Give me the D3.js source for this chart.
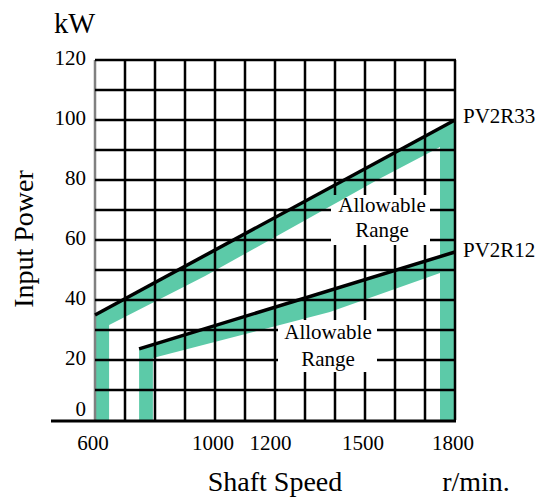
<!DOCTYPE html>
<html><head><meta charset="utf-8">
<script src="https://cdn.jsdelivr.net/npm/d3@7"></script>
<style>body{margin:0;background:#fff}svg{display:block}text{font-family:"Liberation Serif","Times New Roman",serif;fill:#000}</style>
</head><body><svg id="c" width="547" height="497"></svg>
<script>
// ---- data ----
const xTicks = [600, 1000, 1200, 1500, 1800];
const yTicks = [0, 20, 40, 60, 80, 100, 120];
const xGrid = d3.range(600, 1801, 100);
const yGrid = d3.range(0, 121, 10);
const seriesNames = ["PV2R33", "PV2R12"];
const linePV2R33 = [[600, 35], [1800, 100]];
const linePV2R12 = [[747, 23.7], [1800, 56]];
const bandPV2R33 = [[600,0],[600,35],[1800,100],[1800,0],[1750,0],[1750,91],[1550,80.5],[967,48],[647,31.7],[647,0]];
const bandPV2R12 = [[747,0],[747,23.7],[1800,56],[1800,0],[1750,0],[1750,49],[1383,36],[793,20.7],[793,0]];
const labelRange = ["Allowable", "Range"];

const svg = d3.select("#c");
const x = d3.scaleLinear().domain([600, 1800]).range([95, 455]);
const y = d3.scaleLinear().domain([0, 120]).range([420, 60]);

const defs = svg.append("defs");
defs.append("filter").attr("id","soft").append("feGaussianBlur").attr("stdDeviation",0.7);
const mask = defs.append("mask").attr("id","gm").attr("maskUnits","userSpaceOnUse");
mask.append("rect").attr("x",0).attr("y",0).attr("width",547).attr("height",497).attr("fill","#fff");
mask.append("rect").attr("x",331).attr("y",195).attr("width",99).attr("height",50).attr("fill","#000");
mask.append("rect").attr("x",278).attr("y",320).attr("width",99).attr("height",52).attr("fill","#000");

// bands
const area = d3.line().x(d => x(d[0])).y(d => y(d[1]));
[bandPV2R33, bandPV2R12].forEach(b => {
  svg.append("path").attr("d", area(b) + "Z").attr("fill", "#5ccaa8").attr("filter","url(#soft)");
});

// grid
const g = svg.append("g").attr("mask","url(#gm)");
g.selectAll(".v").data(xGrid).join("line")
  .attr("x1", d => x(d)).attr("x2", d => x(d)).attr("y1", y(120)).attr("y2", y(0))
  .attr("stroke", (d,i) => i === 0 ? "#808080" : "#000").attr("stroke-width", 2.5);
g.selectAll(".h").data(yGrid.filter(d => d > 0)).join("line")
  .attr("x1", x(600)).attr("x2", x(1800)+1).attr("y1", d => y(d)).attr("y2", d => y(d))
  .attr("stroke", "#000").attr("stroke-width", 2.4);
// baseline
svg.append("line").attr("x1", 51).attr("x2", x(1800)+1).attr("y1", y(0)+1).attr("y2", y(0)+1)
  .attr("stroke", "#000").attr("stroke-width", 3);

// series lines
const ln = d3.line().x(d => x(d[0])).y(d => y(d[1]));
[linePV2R33, linePV2R12].forEach(l => {
  svg.append("path").attr("d", ln(l)).attr("fill","none").attr("stroke","#000").attr("stroke-width",3.5);
});

// axis tick labels
svg.selectAll(".xt").data(xTicks).join("text")
  .attr("x", d => x(d) - (d === 1200 ? 4.5 : 2)).attr("y", 450)
  .attr("text-anchor", "middle").attr("font-size", 21).text(d => d);
svg.selectAll(".yt").data(yTicks).join("text")
  .attr("x", 86).attr("y", d => y(d) + 6 - (d === 0 ? 10 : 1))
  .attr("text-anchor", "end").attr("font-size", 21).text(d => d);

// axis titles
svg.append("text").attr("x", 54).attr("y", 33).attr("font-size", 28.5).text("kW");
svg.append("text").attr("transform","translate(33,239) rotate(-90)").attr("text-anchor","middle")
  .attr("font-size", 28).text("Input Power");
svg.append("text").attr("x", 275).attr("y", 491).attr("text-anchor","middle").attr("font-size", 28).text("Shaft Speed");
svg.append("text").attr("x", 476).attr("y", 491).attr("text-anchor","middle").attr("font-size", 28).text("r/min.");

// series labels
svg.append("text").attr("x", 463).attr("y", 123).attr("font-size", 21).text(seriesNames[0]);
svg.append("text").attr("x", 463).attr("y", 256.5).attr("font-size", 21).text(seriesNames[1]);

// allowable range labels
const lp = [[382, 212, 237], [328, 339, 366]];
lp.forEach(p => {
  svg.append("text").attr("x", p[0]).attr("y", p[1]).attr("text-anchor","middle").attr("font-size",21).text(labelRange[0]);
  svg.append("text").attr("x", p[0]).attr("y", p[2]).attr("text-anchor","middle").attr("font-size",21).text(labelRange[1]);
});
</script></body></html>
